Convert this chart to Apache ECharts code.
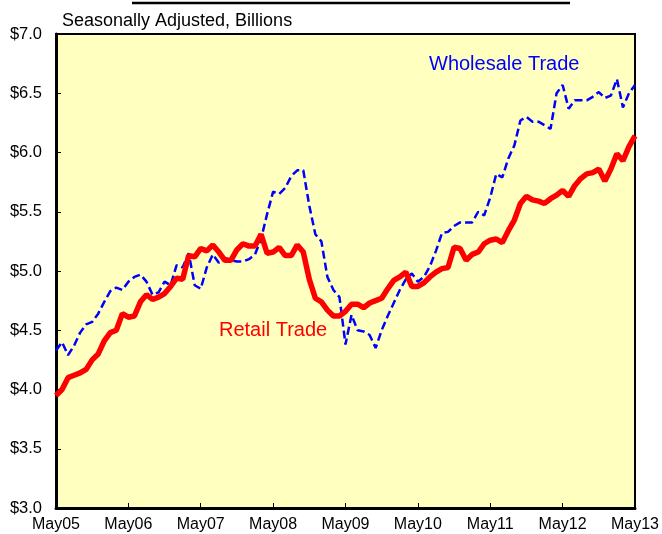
<!DOCTYPE html>
<html>
<head>
<meta charset="utf-8">
<script src="https://cdn.jsdelivr.net/npm/echarts@6/dist/echarts.min.js"></script>
<style>
  html, body { margin: 0; padding: 0; background: #fff; }
  #chart { width: 662px; height: 534px; }
</style>
</head>
<body>
<div id="chart"></div>
<script>
// monthly, May05 .. May13
var yearLabels = ['May05', 'May06', 'May07', 'May08', 'May09', 'May10', 'May11', 'May12', 'May13'];
var monthNames = ['May', 'Jun', 'Jul', 'Aug', 'Sep', 'Oct', 'Nov', 'Dec', 'Jan', 'Feb', 'Mar', 'Apr'];

var wholesale = [
  4.33, 4.40, 4.29, 4.37, 4.48, 4.55, 4.57, 4.64, 4.74, 4.83, 4.86, 4.84,
  4.91, 4.95, 4.97, 4.91, 4.80, 4.82, 4.91, 4.88, 5.05, 5.03, 5.15, 4.88,
  4.85, 5.03, 5.14, 5.07, 5.11, 5.09, 5.08, 5.08, 5.10, 5.14, 5.27, 5.48,
  5.67, 5.65, 5.70, 5.80, 5.85, 5.85, 5.55, 5.31, 5.25, 4.95, 4.84, 4.78,
  4.38, 4.63, 4.50, 4.49, 4.46, 4.35, 4.50, 4.62, 4.73, 4.84, 4.93, 4.98,
  4.91, 4.95, 5.04, 5.17, 5.32, 5.33, 5.38, 5.41, 5.41, 5.41, 5.50, 5.47,
  5.62, 5.82, 5.79, 5.95, 6.06, 6.27, 6.30, 6.26, 6.26, 6.23, 6.20, 6.50,
  6.57, 6.37, 6.44, 6.44, 6.44, 6.47, 6.51, 6.46, 6.48, 6.62, 6.38, 6.50,
  6.57
];

var retail = [
  3.95, 4.00, 4.10, 4.12, 4.14, 4.17, 4.25, 4.30, 4.41, 4.48, 4.50, 4.64,
  4.61, 4.62, 4.74, 4.80, 4.76, 4.78, 4.81, 4.87, 4.94, 4.93, 5.13, 5.12,
  5.19, 5.17, 5.22, 5.16, 5.09, 5.09, 5.18, 5.23, 5.21, 5.21, 5.31, 5.15,
  5.16, 5.20, 5.13, 5.13, 5.22, 5.16, 4.93, 4.77, 4.74, 4.67, 4.62, 4.62,
  4.66, 4.72, 4.72, 4.69, 4.73, 4.75, 4.77, 4.85, 4.92, 4.95, 4.99, 4.87,
  4.87, 4.90, 4.95, 4.99, 5.02, 5.03, 5.20, 5.19, 5.09, 5.14, 5.16, 5.23,
  5.26, 5.27, 5.24, 5.34, 5.43, 5.57, 5.63, 5.60, 5.59, 5.57, 5.61, 5.64,
  5.68, 5.63, 5.72, 5.78, 5.82, 5.83, 5.86, 5.76, 5.86, 5.99, 5.93, 6.05,
  6.14
];

// category per month, labelled only at each May
var months = [];
for (var i = 0; i < retail.length; i++) {
  var yr = 5 + Math.floor((i + 4) / 12);
  months.push(monthNames[i % 12] + (yr < 10 ? '0' : '') + yr);
}

var font = 'Arial, "Liberation Sans", Helvetica, sans-serif';
var chart = echarts.init(document.getElementById('chart'));
chart.setOption({
  animation: false,
  backgroundColor: '#fff',
  grid: {
    left: 56, right: 24, top: 34, bottom: 26,
    show: true,
    backgroundColor: '#FFFFC0',
    borderColor: '#000',
    borderWidth: 2
  },
  title: {
    text: 'Seasonally Adjusted, Billions',
    left: 57, top: 7,
    textStyle: { fontFamily: font, fontSize: 18, fontWeight: 'normal', color: '#000' }
  },
  xAxis: {
    type: 'category',
    data: months,
    boundaryGap: false,
    axisLine: { lineStyle: { color: '#000', width: 3 } },
    axisTick: { inside: true, length: 5, interval: 11, lineStyle: { color: '#000', width: 1 } },
    axisLabel: {
      interval: 11, margin: 9, color: '#000',
      fontFamily: font, fontSize: 16,
      formatter: function (v) { return yearLabels.indexOf(v) >= 0 ? v : ''; }
    },
    splitLine: { show: false }
  },
  yAxis: {
    type: 'value',
    min: 3, max: 7, interval: 0.5,
    axisLine: { show: true, lineStyle: { color: '#000', width: 3 } },
    axisTick: { show: true, inside: true, length: 5, lineStyle: { color: '#000', width: 1 } },
    axisLabel: {
      margin: 14, color: '#000', fontFamily: font, fontSize: 16.5,
      formatter: function (v) { return '$' + v.toFixed(1); }
    },
    splitLine: { show: false }
  },
  series: [
    {
      name: 'Wholesale Trade',
      type: 'line',
      data: wholesale,
      symbol: 'none',
      lineStyle: { color: '#0000FF', width: 2.5, type: [8, 4] },
      z: 2
    },
    {
      name: 'Retail Trade',
      type: 'line',
      data: retail,
      symbol: 'none',
      lineStyle: { color: '#FF0000', width: 5.5 },
      z: 3
    }
  ],
  graphic: [
    { type: 'line', shape: { x1: 132, y1: 3, x2: 570, y2: 3 }, style: { stroke: '#000', lineWidth: 2.5 } },
    { type: 'text', left: 429, top: 54, style: { text: 'Wholesale Trade', fill: '#0000FF', font: '20px ' + font } },
    { type: 'text', left: 219, top: 320, style: { text: 'Retail Trade', fill: '#FF0000', font: '20px ' + font } }
  ]
});
</script>
</body>
</html>
